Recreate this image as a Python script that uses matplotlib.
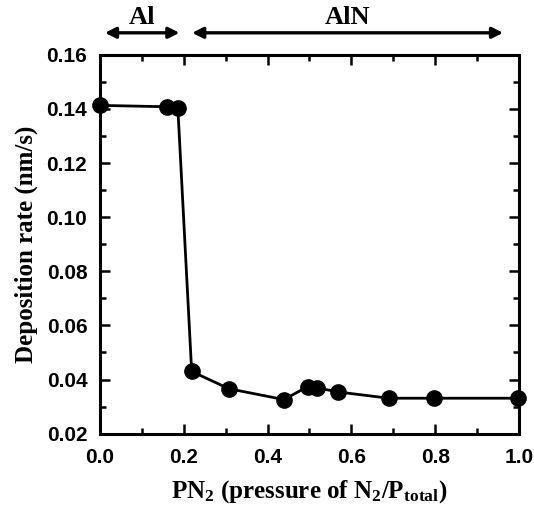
import matplotlib
matplotlib.use("Agg")
import matplotlib.pyplot as plt
from matplotlib.ticker import MultipleLocator

plt.rcParams['mathtext.fontset'] = 'custom'
plt.rcParams['mathtext.rm'] = 'Liberation Serif:bold'
plt.rcParams['mathtext.bf'] = 'Liberation Serif:bold'
plt.rcParams['mathtext.it'] = 'Liberation Serif:bold'

# Data
pn2 = [0.0, 0.16, 0.186, 0.219, 0.308, 0.439, 0.496, 0.519, 0.569, 0.689, 0.796, 0.997]
rate = [0.1413, 0.1408, 0.1405, 0.0430, 0.0366, 0.0326, 0.0374, 0.0369, 0.0354, 0.0331, 0.0331, 0.0331]
x_ticks = [0.0, 0.2, 0.4, 0.6, 0.8, 1.0]
y_ticks = [0.02, 0.04, 0.06, 0.08, 0.10, 0.12, 0.14, 0.16]
regions = [("Al", 0.012, 0.19), ("AlN", 0.22, 0.962)]

fig = plt.figure(figsize=(5.34, 5.12), dpi=100)
ax = fig.add_axes([0.187, 0.153, 0.785, 0.740])

ax.plot(pn2, rate, color='black', lw=2, marker='o', markersize=11,
        markerfacecolor='black', markeredgecolor='black', clip_on=False, zorder=3)

ax.set_xlim(0, 1.0)
ax.set_ylim(0.02, 0.16)
ax.set_xticks(x_ticks)
ax.set_yticks(y_ticks)
ax.set_xticklabels([f"{v:.1f}" for v in x_ticks])
ax.set_yticklabels([f"{v:.2f}" for v in y_ticks])
ax.xaxis.set_minor_locator(MultipleLocator(0.1))
ax.yaxis.set_minor_locator(MultipleLocator(0.01))
ax.tick_params(which='both', direction='in', top=True, right=True, width=1.8)
ax.tick_params(which='major', length=7)
ax.tick_params(which='minor', length=4)
ax.tick_params(axis='x', which='major', pad=10)
ax.tick_params(axis='y', which='major', pad=9)
for lab in ax.get_xticklabels() + ax.get_yticklabels():
    lab.set_fontfamily('Liberation Sans')
    lab.set_fontweight('bold')
    lab.set_fontsize(15)
for s in ax.spines.values():
    s.set_linewidth(2.2)

ax.set_ylabel("Deposition rate (nm/s)", fontfamily='Liberation Serif',
              fontweight='bold', fontsize=18, labelpad=6)
ax.set_xlabel(r"PN$_\mathrm{2}$ (pressure of N$_\mathrm{2}$/P$_\mathrm{total}$)",
              fontfamily='Liberation Serif', fontweight='bold', fontsize=18, labelpad=8)

for name, x0, x1 in regions:
    ax.annotate("", xy=(x0, 1.058), xytext=(x1, 1.058), xycoords=('data', 'axes fraction'),
                textcoords=('data', 'axes fraction'),
                arrowprops=dict(arrowstyle='<|-|>', color='black', lw=2.4,
                                mutation_scale=16, shrinkA=0, shrinkB=0),
                annotation_clip=False)
    ax.text((x0 + x1) / 2, 1.068, name, transform=ax.get_xaxis_transform(),
            ha='center', va='bottom', fontfamily='Liberation Serif',
            fontweight='bold', fontsize=19)

fig.savefig("out.png", dpi=100)
